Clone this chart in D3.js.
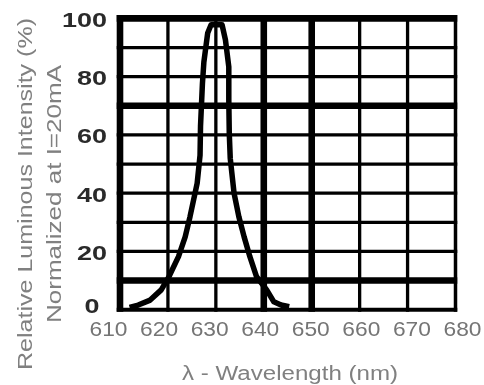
<!DOCTYPE html>
<html>
<head>
<meta charset="utf-8">
<script src="https://cdn.jsdelivr.net/npm/d3@7"></script>
<style>
  html, body { margin: 0; padding: 0; background: #fff; }
  svg { display: block; }
</style>
</head>
<body>
<svg id="chart" width="484" height="385"></svg>
<script>
// Axis ticks
const wavelengthTicks = [610, 620, 630, 640, 650, 660, 670, 680];
const intensityTicks = [0, 20, 40, 60, 80, 100];
const intensityGrid = [0, 10, 20, 30, 40, 50, 60, 70, 80, 90, 100];
// Grid lines drawn heavier
const heavyWavelengths = [610, 640, 650];
const heavyIntensities = [10, 70, 100];

// Relative luminous intensity spectrum
const wavelength = [612.0, 613.8, 616.3, 618.6, 620.2, 622.2, 623.6, 624.6, 626.1, 626.7,
                    626.8, 627.2, 627.5, 628.3, 629.0, 631.3, 632.0, 632.7, 632.7, 632.8,
                    633.0, 633.8, 634.8, 635.9, 637.1, 638.5, 640.6, 642.1, 643.6, 645.3];
const intensity  = [0.8, 1.6, 3.3, 6.8, 11.3, 18.2, 25.0, 31.9, 43.4, 53.0,
                    63.0, 77.7, 85.0, 95.0, 97.8, 97.8, 92.6, 83.4, 72.0, 60.5,
                    52.0, 40.0, 31.9, 25.0, 18.2, 11.3, 6.8, 2.7, 1.6, 1.0];

const svg = d3.select("#chart");
const font = "'Liberation Sans', Arial, sans-serif";

const x = d3.scaleLinear().domain([610, 680]).range([120, 455.5]);
const xLabel = d3.scaleLinear().domain([610, 680]).range([108, 462]);
const y = d3.scaleLinear().domain([0, 100]).range([309.7, 18.4]);

const thin = 3.3, heavy = 6.6;

function vWidth(v) {
  if (heavyWavelengths.includes(v)) return heavy;
  if (v === 680) return 3.5;
  return thin;
}
function hWidth(v) {
  if (heavyIntensities.includes(v)) return heavy;
  if (v === 0) return 4;
  return thin;
}

const grid = svg.append("g").attr("stroke", "#000");

grid.selectAll("line.h")
  .data(intensityGrid)
  .join("line")
  .attr("class", "h")
  .attr("x1", x(610) - heavy / 2)
  .attr("x2", x(680) + 1.75)
  .attr("y1", d => y(d))
  .attr("y2", d => y(d))
  .attr("stroke-width", hWidth);

grid.selectAll("line.v")
  .data(wavelengthTicks)
  .join("line")
  .attr("class", "v")
  .attr("x1", d => x(d))
  .attr("x2", d => x(d))
  .attr("y1", y(100) - heavy / 2)
  .attr("y2", y(0) + 2)
  .attr("stroke-width", vWidth);

// Spectrum curve
const line = d3.line()
  .x(d => x(d[0]))
  .y(d => y(d[1]));

svg.append("path")
  .datum(d3.zip(wavelength, intensity))
  .attr("d", line)
  .attr("fill", "none")
  .attr("stroke", "#000")
  .attr("stroke-width", 5.5)
  .attr("stroke-linejoin", "round");

// Soft text rendering
const defs = svg.append("defs");
defs.append("filter").attr("id", "soft")
  .append("feGaussianBlur").attr("stdDeviation", 0.45);

// Y axis tick labels: one- and two-digit labels sit centred in the label column,
// and the zero label is lifted clear of the wavelength labels below it
const yAxis = d3.axisLeft(y).tickValues(intensityTicks).tickSize(0).tickPadding(13);
const gy = svg.append("g").attr("transform", "translate(120,0)").call(yAxis);
gy.select(".domain").remove();
gy.selectAll("text")
  .attr("font-family", font)
  .attr("font-size", 21)
  .attr("font-weight", "bold")
  .attr("fill", "#2a2a2a")
  .attr("dy", d => d === 0 ? "0.12em" : "0.38em")
  .attr("x", d => d >= 100 ? -13 : -28)
  .attr("text-anchor", d => d >= 100 ? "end" : "middle")
  .attr("textLength", d => String(d).length * 15)
  .attr("lengthAdjust", "spacingAndGlyphs")
  .attr("filter", "url(#soft)");

// X axis tick labels
const xAxis = d3.axisBottom(xLabel).tickValues(wavelengthTicks).tickSize(0).tickPadding(0).tickFormat(d3.format("d"));
const gx = svg.append("g").attr("transform", "translate(0,321)").call(xAxis);
gx.select(".domain").remove();
gx.selectAll("text")
  .attr("font-family", font)
  .attr("font-size", 21)
  .attr("fill", "#747474")
  .attr("dy", "0.72em")
  .attr("textLength", 38)
  .attr("lengthAdjust", "spacingAndGlyphs")
  .attr("filter", "url(#soft)");

// Axis titles
svg.append("text")
  .attr("x", 290).attr("y", 380)
  .attr("text-anchor", "middle")
  .attr("font-family", font)
  .attr("font-size", 20)
  .attr("fill", "#808080")
  .attr("textLength", 216)
  .attr("lengthAdjust", "spacingAndGlyphs")
  .attr("filter", "url(#soft)")
  .text("λ - Wavelength (nm)");

const yTitle = svg.append("g")
  .attr("font-family", font)
  .attr("font-size", 21)
  .attr("fill", "#808080")
  .attr("text-anchor", "middle")
  .attr("filter", "url(#soft)");

yTitle.append("text")
  .attr("transform", "translate(32,194) rotate(-90)")
  .attr("textLength", 352)
  .attr("lengthAdjust", "spacingAndGlyphs")
  .text("Relative Luminous Intensity (%)");

yTitle.append("text")
  .attr("transform", "translate(61,194) rotate(-90)")
  .attr("textLength", 258)
  .attr("lengthAdjust", "spacingAndGlyphs")
  .text("Normalized at I=20mA");
</script>
</body>
</html>
